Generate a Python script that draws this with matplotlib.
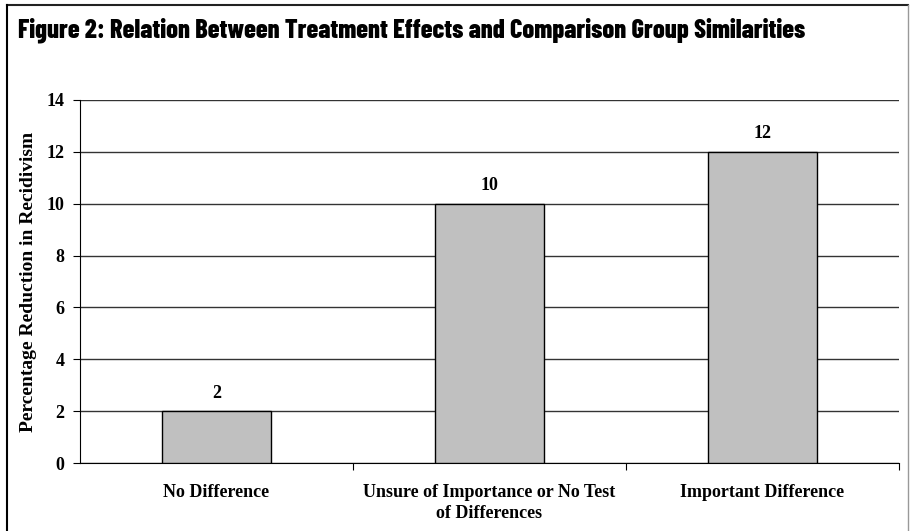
import matplotlib.pyplot as plt
from matplotlib.lines import Line2D
import numpy as np

categories = ["No Difference", "Unsure of Importance or No Test\nof Differences", "Important Difference"]
values = [2, 10, 12]
yticks = [0, 2, 4, 6, 8, 10, 12, 14]

plt.rcParams["font.family"] = ["Liberation Serif", "DejaVu Serif"]

fig = plt.figure(figsize=(9.10, 5.31), dpi=100)
ax = fig.add_axes([80 / 910, 1 - 463 / 531, 819 / 910, 363 / 531])

x = np.arange(len(categories))
bars = ax.bar(x, values, width=0.40, color="#c0c0c0", edgecolor="black", linewidth=1.0, zorder=3)

# value labels over the bars
for b, v in zip(bars, values):
    ax.annotate(str(v), (b.get_x() + b.get_width() / 2, v), xytext=(0, 13), textcoords="offset points",
                ha="center", va="center", fontsize=13, fontweight="bold")

ax.set_xlim(-0.5, len(categories) - 0.5)
ax.set_ylim(0, 14)
ax.set_yticks(yticks)
ax.set_yticklabels([str(t) for t in yticks], fontsize=13, fontweight="bold")
ax.yaxis.grid(True, color="#333333", linewidth=1.0, zorder=0)

# ticks sit between categories, labels centred under bars
ax.set_xticks([0.5, 1.5, 2.5])
ax.set_xticklabels([])
ax.set_xticks(x, minor=True)
ax.set_xticklabels(categories, minor=True, fontsize=13, fontweight="bold", linespacing=1.3)
ax.tick_params(axis="x", which="minor", length=0, pad=15)
ax.tick_params(axis="x", which="major", length=5, direction="out", color="black")
ax.tick_params(axis="y", length=5, direction="out", pad=6)

for s in ["top", "right"]:
    ax.spines[s].set_visible(False)

ax.set_ylabel("Percentage Reduction in Recidivism", fontsize=14, fontweight="bold", labelpad=7)

fig.text(18 / 910, 1 - 37 / 531,
         "Figure 2: Relation Between Treatment Effects and Comparison Group Similarities",
         family=["Barlow Condensed", "DejaVu Sans"], fontweight=800, fontsize=19,
         va="baseline", ha="left")

# frame lines
fig.add_artist(Line2D([7 / 910, 908 / 910], [1 - 5 / 531, 1 - 5 / 531], transform=fig.transFigure,
                      color="#222222", linewidth=1.5))
fig.add_artist(Line2D([7 / 910, 7 / 910], [0, 1 - 5 / 531], transform=fig.transFigure,
                      color="black", linewidth=1.5))
fig.add_artist(Line2D([908 / 910, 908 / 910], [0, 1 - 5 / 531], transform=fig.transFigure,
                      color="#999999", linewidth=1.0))

fig.savefig("out.png", dpi=100)
